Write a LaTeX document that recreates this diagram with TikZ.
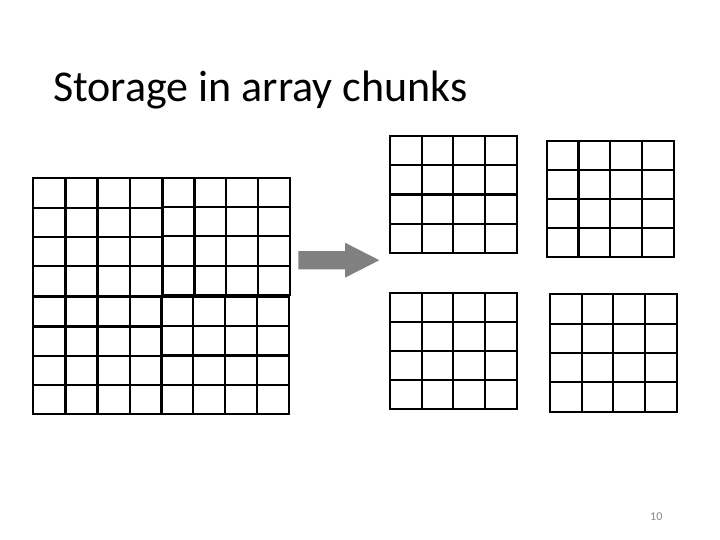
\documentclass[tikz,border=0pt]{standalone}
\usepackage{fontspec}
\setmainfont{Carlito}
\definecolor{arrowgray}{RGB}{128,128,128}
\definecolor{numgray}{RGB}{137,137,137}
% one 4x4 chunk, from its top left to its bottom right corner
\newcommand{\chunk}[4]{%
  \draw[cell] (#1,#2) rectangle (#3,#4);
  \foreach \i in {1,2,3} {
    \draw[cell] ({#1+\i*(#3-#1)/4},#2) -- ({#1+\i*(#3-#1)/4},#4);
    \draw[cell] (#1,{#2+\i*(#4-#2)/4}) -- (#3,{#2+\i*(#4-#2)/4});
  }}
\begin{document}
\begin{tikzpicture}[x=1pt, y=-1pt,
  cell/.style={draw=black, line width=2.2pt},
  every node/.style={inner sep=0pt}]
\useasboundingbox[fill=white] (0,0) rectangle (720,540);
\node[anchor=base west, font=\fontsize{44}{50}\selectfont] (title) at (53,102) {Storage in array chunks};
% the whole array
\chunk{33.3}{178.3}{161.7}{295.7}
\chunk{162.7}{177.7}{290}{295}
\chunk{33.3}{297.3}{161.7}{414.3}
\chunk{160.7}{296.7}{289.3}{414.3}
% the arrow
\fill[arrowgray] (298.3,251) -- (345,251) -- (345,242.7) -- (379.3,260.2)
  -- (345,277.7) -- (345,269.3) -- (298.3,269.3) -- cycle;
% the stored chunks
\chunk{390}{135.7}{516.7}{253.3}
\chunk{546.7}{140.7}{674}{256.7}
\chunk{390}{292.7}{516.7}{409}
\chunk{550}{294.3}{676.7}{411.7}
\node[anchor=base, font=\fontsize{12}{14}\selectfont, text=numgray] (pagenum) at (656.3,520) {10};
\end{tikzpicture}
\end{document}
